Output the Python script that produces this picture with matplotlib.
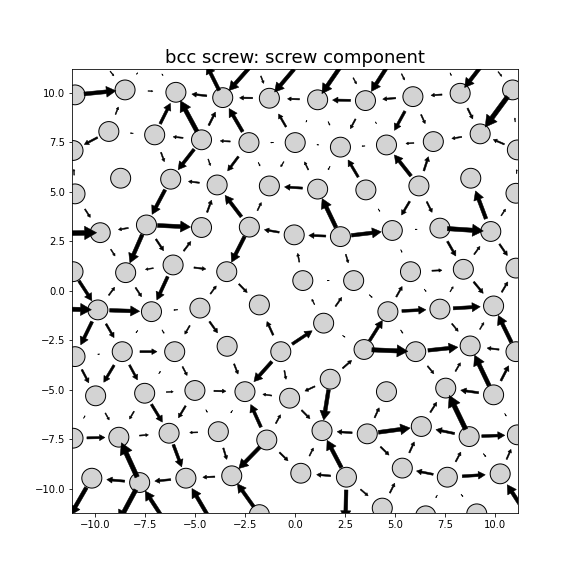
import matplotlib
matplotlib.use("Agg")
import matplotlib.pyplot as plt
import numpy as np
from matplotlib.patches import Circle

# atom positions (names, x, y); U/L/Q/R rows lie just outside the view
names = ['A0', 'A1', 'A2', 'A3', 'A4', 'A5', 'A6', 'A7', 'A8', 'A9',
         'B0', 'B1', 'B2', 'B3', 'B4', 'B5', 'B6', 'B7', 'B8', 'B9', 'B10',
         'C0', 'C1', 'C2', 'C3', 'C4', 'C5', 'C6', 'C7', 'C8', 'C9',
         'D0', 'D1', 'D2', 'D3', 'D4', 'D5', 'D6', 'D7', 'D8',
         'E0', 'E1', 'E2', 'E3', 'E4', 'E5', 'E6', 'E7', 'E8',
         'F0', 'F1', 'F2', 'F3', 'F4', 'F5', 'F6', 'F7',
         'G0', 'G1', 'G2', 'G3', 'G4', 'G5', 'G6', 'G7', 'G8',
         'H0', 'H1', 'H2', 'H3', 'H4', 'H5', 'H6', 'H7', 'H8',
         'I0', 'I1', 'I2', 'I3', 'I4', 'I5', 'I6', 'I7', 'I8', 'I9',
         'J0', 'J1', 'J2', 'J3', 'J4', 'J5', 'J6', 'J7', 'J8',
         'K0', 'K1', 'K2', 'K3',
         'U0', 'U1', 'U2', 'U3', 'U4', 'U5', 'U6', 'U7', 'U8',
         'L0', 'L1', 'R0', 'Q0', 'Q1', 'Q2', 'Q3', 'Q4']
atom_x = [-11.0, -8.5, -5.96, -3.62, -1.29, 1.12, 3.51, 5.88, 8.24, 10.86,
          -11.1, -9.31, -7.02, -4.68, -2.31, 0.0, 2.26, 4.56, 6.9, 9.24, 11.1,
          -11.0, -8.72, -6.22, -3.9, -1.29, 1.12, 3.53, 6.18, 8.77, 11.03,
          -9.74, -7.43, -4.68, -2.29, -0.05, 2.26, 4.85, 7.23, 9.77,
          -11.1, -8.47, -6.1, -3.42, 0.38, 2.92, 5.76, 8.4, 11.03,
          -9.86, -7.18, -4.76, -1.79, 1.42, 4.63, 7.23, 9.91,
          -11.0, -8.64, -6.02, -3.4, -0.72, 3.44, 6.02, 8.74, 11.03,
          -9.97, -7.52, -5.01, -2.51, -0.28, 1.75, 4.56, 7.52, 9.91,
          -11.1, -8.81, -6.3, -3.84, -1.42, 1.34, 3.6, 6.3, 8.69, 11.1,
          -10.16, -7.77, -5.46, -3.17, 0.28, 2.56, 5.35, 7.6, 10.24,
          -1.79, 4.35, 6.52, 9.07,
          -9.8, -7.3, -4.6, -2.0, 0.2, 2.45, 4.9, 7.3, 9.6,
          -12.1, -12.3, 11.75, -11.5, -9.0, -6.4, -4.1, 2.5]
atom_y = [9.9, 10.15, 10.03, 9.76, 9.73, 9.65, 9.61, 9.81, 9.98, 10.15,
          7.09, 8.05, 7.88, 7.63, 7.49, 7.49, 7.26, 7.37, 7.54, 7.93, 7.12,
          4.9, 5.69, 5.64, 5.35, 5.30, 5.14, 5.1, 5.30, 5.69, 4.93,
          2.94, 3.33, 3.2, 3.22, 2.83, 2.74, 3.05, 3.17, 3.0,
          0.97, 0.92, 1.31, 0.97, 0.52, 0.52, 0.97, 1.09, 1.15,
          -0.96, -1.05, -0.87, -0.71, -1.63, -1.05, -0.92, -0.76,
          -3.32, -3.07, -3.07, -2.8, -3.07, -2.96, -3.07, -2.78, -3.07,
          -5.3, -5.17, -5.03, -5.09, -5.42, -4.46, -5.09, -4.91, -5.25,
          -7.44, -7.39, -7.19, -7.11, -7.53, -7.06, -7.22, -6.85, -7.36, -7.27,
          -9.46, -9.68, -9.46, -9.34, -9.21, -9.41, -8.95, -9.41, -9.24,
          -11.3, -10.97, -11.36, -11.26,
          11.8, 11.8, 11.75, 11.6, 11.5, 11.6, 11.8, 11.9, 11.75,
          2.9, -0.9, -11.6, -11.8, -12.0, -11.8, -11.8, -12.2]
ghost_rows = ('U', 'L', 'R', 'Q')  # only used as arrow anchors, not drawn

# differential displacement arrows: from atom, to atom, arrow length
arrow_from = ['U0', 'U1', 'U1', 'A3', 'U3', 'U3', 'U4', 'U5', 'U5', 'U6', 'U6', 'U7', 'U8', 'U8',
              'A0', 'A1', 'A3', 'A4', 'A5', 'A6', 'A7', 'A8',
              'B1', 'B2', 'B3', 'B3', 'B4', 'B5', 'B5', 'A5', 'A6', 'A6', 'A7', 'A7', 'A8', 'A9', 'B10',
              'B2', 'B3', 'B1', 'B4', 'B5', 'B6', 'B7', 'B8', 'B9', 'B10',
              'C0', 'B2', 'B3', 'B3', 'B4', 'B4', 'B5', 'C5', 'B6', 'C6', 'C7', 'C7', 'C9',
              'C3', 'C5',
              'C0', 'C2', 'D2', 'D3', 'D3', 'D5', 'C6', 'C7', 'C7', 'D8', 'D8',
              'L0', 'D1', 'D1', 'D4', 'D5', 'D5', 'D7', 'D7',
              'D0', 'D1', 'D1', 'E2', 'D3', 'E4', 'D5', 'D6', 'D7', 'E7', 'D8',
              'E2', 'E2', 'E5', 'E6',
              'E0', 'F0', 'E1', 'E2', 'F2', 'E3', 'F4', 'F4', 'E5', 'F5', 'E6', 'F6', 'E7', 'F7',
              'L1', 'F0', 'F2', 'F5', 'F6',
              'F0', 'F0', 'F1', 'F1', 'F2', 'F2', 'G4', 'G4', 'F4', 'G5', 'F5', 'F6', 'G7', 'G8',
              'G1', 'G1', 'G5', 'G6', 'G8',
              'G0', 'G1', 'G1', 'H1', 'G2', 'G3', 'G4', 'G4', 'H5', 'G6', 'H7', 'H8', 'H8',
              'H1', 'H2', 'H4', 'H5', 'H8',
              'I0', 'H0', 'H1', 'H1', 'H2', 'H2', 'H3', 'I4', 'I4', 'H4', 'H5', 'I6', 'I7', 'I8', 'H8',
              'I0', 'I1', 'I3', 'I6', 'I6', 'I8', 'I8',
              'J1', 'I2', 'I3', 'I4', 'I4', 'J4', 'J5', 'I6', 'J6', 'J7', 'I8', 'J8',
              'J1', 'J2', 'J3', 'J5', 'J7', 'J7',
              'J0', 'J1', 'Q2', 'Q3', 'K0', 'J5', 'J5', 'K1', 'J7', 'J7', 'R0']
arrow_to = ['A1', 'A1', 'A2', 'U2', 'A3', 'A4', 'A4', 'A5', 'A6', 'A6', 'A7', 'A8', 'A8', 'A9',
            'A1', 'A2', 'A2', 'A3', 'A4', 'A5', 'A6', 'A7',
            'A1', 'A2', 'A2', 'A3', 'A3', 'A4', 'A5', 'B6', 'B6', 'B7', 'B7', 'B8', 'B9', 'B9', 'A9',
            'B1', 'B2', 'B0', 'B3', 'B4', 'B5', 'B6', 'B7', 'B8', 'B9',
            'B0', 'C2', 'C2', 'C3', 'C3', 'C4', 'C4', 'B5', 'C5', 'B6', 'B7', 'B8', 'B10',
            'C2', 'C4',
            'D0', 'D1', 'C3', 'C3', 'C4', 'C5', 'D6', 'D6', 'D7', 'C8', 'C9',
            'D0', 'D0', 'D2', 'D3', 'D4', 'D6', 'D6', 'D8',
            'E1', 'E1', 'E2', 'D2', 'E3', 'D4', 'E5', 'E6', 'E7', 'D8', 'E8',
            'E1', 'E3', 'E4', 'E7',
            'F0', 'E1', 'F1', 'F1', 'E3', 'F3', 'E4', 'E5', 'F5', 'E6', 'F6', 'E7', 'F7', 'E8',
            'F0', 'F1', 'F1', 'F6', 'F7',
            'G0', 'G1', 'G1', 'G2', 'G2', 'G3', 'F3', 'F4', 'G5', 'F5', 'G6', 'G7', 'F7', 'F7',
            'G0', 'G2', 'G6', 'G7', 'G7',
            'H0', 'H0', 'H1', 'G2', 'H2', 'H3', 'H3', 'H4', 'G5', 'H7', 'G7', 'G7', 'G8',
            'H2', 'H3', 'H3', 'H4', 'H7',
            'H0', 'I1', 'I1', 'I2', 'I2', 'I3', 'I3', 'H3', 'H4', 'I5', 'I5', 'H6', 'H7', 'H7', 'I9',
            'I1', 'I2', 'I2', 'I5', 'I7', 'I7', 'I9',
            'I1', 'J2', 'J3', 'J3', 'J4', 'I5', 'I5', 'J6', 'I7', 'I8', 'J8', 'I9',
            'J0', 'J1', 'J2', 'J4', 'J6', 'J8',
            'Q0', 'Q1', 'J1', 'J2', 'J3', 'Q4', 'K1', 'J6', 'K2', 'K3', 'J8']
arrow_len = [0.3, 0.1, 0.1, 1.4, 1.5, 0.4, 1.5, 1.6, 0.35, 1.5, 0.35, 0.15, 1.5, 0.3,
             1.6, 0.25, 0.75, 0.65, 0.6, 0.9, 0.65, 0.55,
             0.4, 1.15, 1.75, 0.75, 1.35, 0.75, 0.1, 0.2, 0.55, 0.1, 1.1, 0.5, 0.6, 1.9, 0.2,
             0.15, 0.5, 0.75, 0.5, 0.15, 0.1, 0.15, 0.4, 0.5, 0.6,
             0.3, 0.5, 1.3, 0.35, 0.9, 0.2, 0.3, 0.45, 0.2, 1.0, 1.35, 0.75, 0.2,
             0.55, 0.9,
             0.5, 1.4, 0.65, 1.35, 0.45, 1.6, 0.15, 0.8, 0.6, 1.5, 0.4,
             2.0, 0.5, 1.65, 0.75, 0.85, 1.5, 0.1, 1.8,
             0.4, 1.55, 0.7, 0.6, 1.45, 0.45, 0.45, 0.15, 0.85, 0.5, 0.7,
             0.4, 0.6, 0.1, 0.5,
             1.2, 0.5, 0.55, 1.3, 0.5, 0.6, 0.3, 0.55, 0.2, 0.6, 0.15, 0.3, 0.75, 0.6,
             1.8, 1.5, 0.2, 1.2, 1.35,
             1.3, 0.8, 0.15, 0.2, 0.5, 0.7, 0.75, 1.2, 0.15, 1.2, 0.2, 0.5, 0.4, 1.5,
             0.1, 0.85, 1.8, 1.5, 0.6,
             0.75, 1.0, 0.85, 0.15, 0.5, 0.55, 1.35, 0.45, 0.6, 0.5, 0.5, 1.7, 0.85,
             0.35, 0.6, 0.45, 0.55, 0.9,
             0.15, 0.4, 0.45, 1.05, 0.7, 0.15, 0.15, 1.25, 0.5, 0.6, 1.55, 0.55, 0.6, 1.9, 0.15,
             0.9, 0.45, 0.4, 0.75, 1.6, 0.95, 1.15,
             1.9, 1.2, 0.6, 1.5, 0.6, 0.45, 1.55, 0.6, 0.6, 0.55, 0.2, 0.55,
             0.9, 0.8, 0.6, 0.7, 0.85, 1.15,
             1.6, 1.8, 1.5, 1.5, 1.4, 1.5, 0.5, 0.55, 0.15, 0.15, 1.5]

pos = {n: np.array([x, y]) for n, x, y in zip(names, atom_x, atom_y)}

fig, ax = plt.subplots(figsize=(8, 8), dpi=72)

for n, x, y in zip(names, atom_x, atom_y):
    if n.startswith(ghost_rows):
        continue
    c = Circle((x, y), 0.5, facecolor='lightgray', edgecolor='black', linewidth=1, zorder=2)
    ax.add_patch(c)
    c.set_clip_path(ax.patch)

for a, b, L in zip(arrow_from, arrow_to, arrow_len):
    p, q = pos[a], pos[b]
    u = (q - p) / np.linalg.norm(q - p)
    mid = (p + q) / 2
    start = mid - u * L / 2
    arr = ax.arrow(start[0], start[1], u[0] * L, u[1] * L, width=0.12 * L,
                   head_width=0.34 * L, head_length=0.3 * L, length_includes_head=True,
                   facecolor='black', edgecolor='black', linewidth=0.5, zorder=3)
    arr.set_clip_path(ax.patch)

ax.set_xlim(-11.15, 11.15)
ax.set_ylim(-11.2, 11.2)
ax.set_title('bcc screw: screw component', fontsize=18)

plt.savefig('out.png', dpi=72)
